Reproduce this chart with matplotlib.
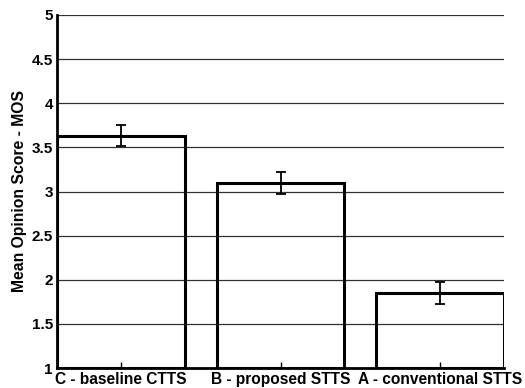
import matplotlib.pyplot as plt

# MOS results per system
systems = ['C - baseline CTTS', 'B - proposed STTS', 'A - conventional STTS']
mos = [3.63, 3.10, 1.85]
mos_err = [0.12, 0.125, 0.125]

plt.rcParams['font.family'] = ['Liberation Sans', 'DejaVu Sans']
plt.rcParams['font.weight'] = 'bold'

fig = plt.figure(figsize=(5.25, 3.88), dpi=100)
ax = fig.add_axes([57 / 525, 20 / 388, 447 / 525, 353 / 388])

xpos = list(range(1, len(systems) + 1))
ax.set_axisbelow(True)
ax.yaxis.grid(True, color='#303030', linewidth=0.9)
# open bars, grid shows through
ax.bar(xpos, [m - 1 for m in mos], bottom=1, width=0.8,
       facecolor='none', edgecolor='black', linewidth=2.2, zorder=2)
ax.errorbar(xpos, mos, yerr=mos_err, fmt='none', ecolor='black',
            elinewidth=1.3, capsize=3.5, capthick=1.3, zorder=3)

ax.set_xlim(0.6, 3.4)
ax.set_ylim(1, 5)
ax.set_yticks([1, 1.5, 2, 2.5, 3, 3.5, 4, 4.5, 5])
ax.set_yticklabels(['1', '1.5', '2', '2.5', '3', '3.5', '4', '4.5', '5'])
ax.set_xticks(xpos)
ax.set_xticklabels(systems)
ax.tick_params(axis='x', direction='in', length=4, width=1, pad=3, labelsize=11.2)
ax.tick_params(axis='y', length=0, pad=3, labelsize=11)

for side in ['top', 'right']:
    ax.spines[side].set_visible(False)
for side in ['left', 'bottom']:
    ax.spines[side].set_linewidth(2)

ax.set_ylabel('Mean Opinion Score - MOS', fontsize=11.3, fontweight='bold', labelpad=3)

fig.savefig('out.png', dpi=100)
